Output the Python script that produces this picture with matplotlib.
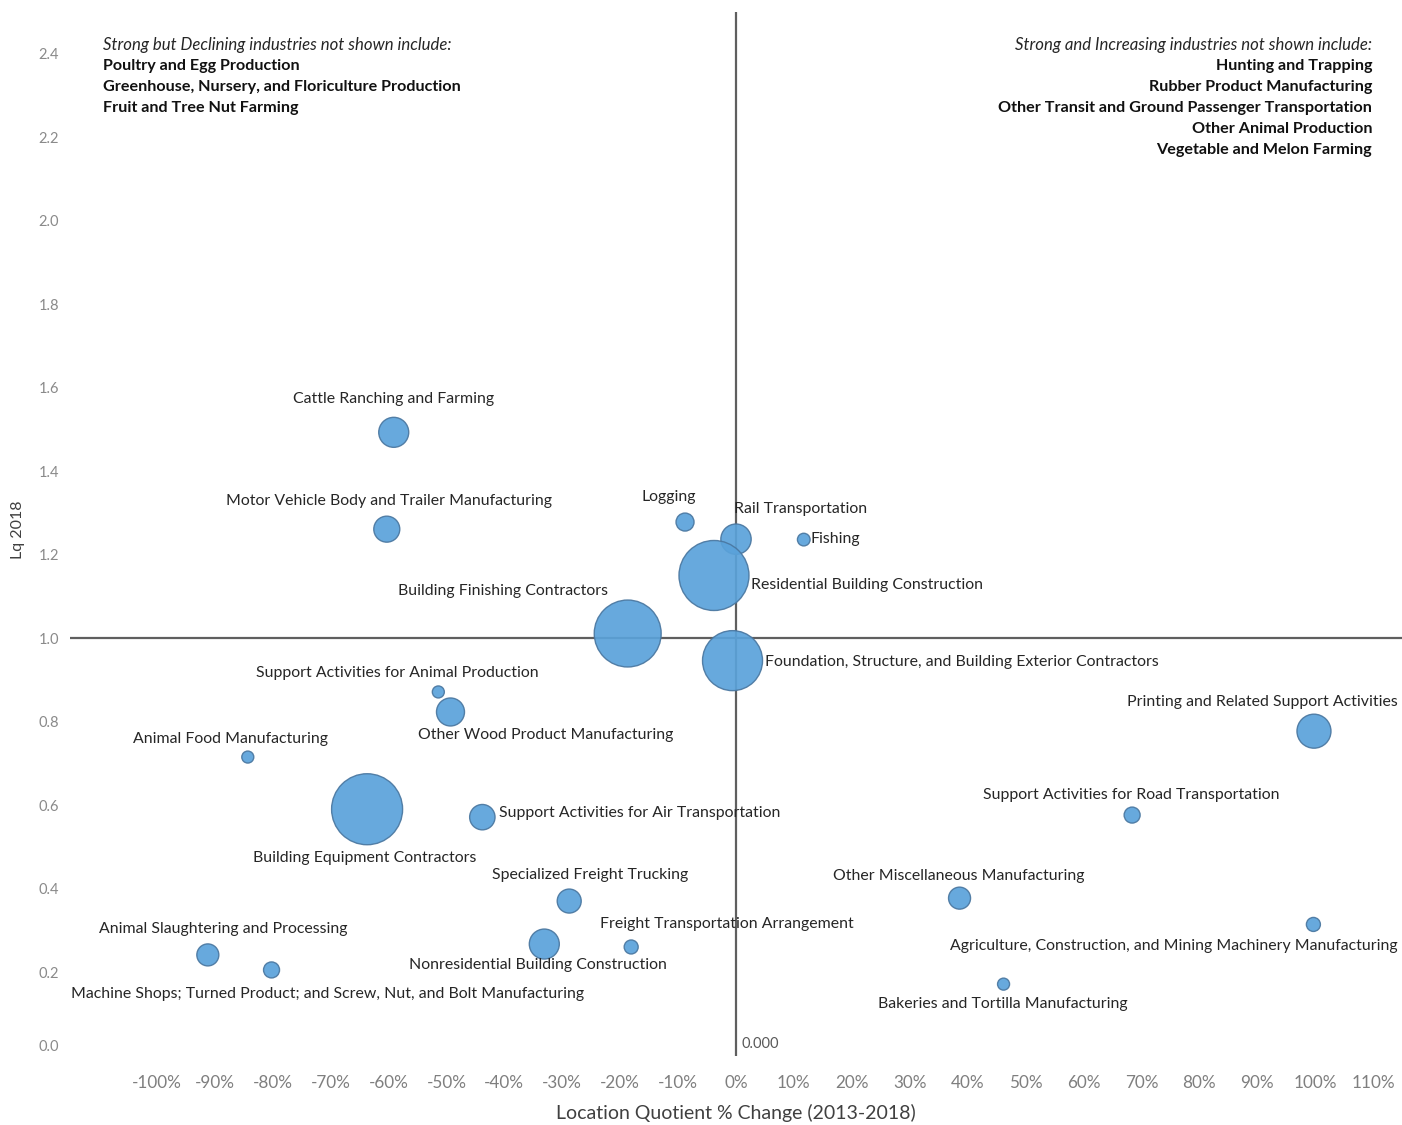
import matplotlib
matplotlib.use("Agg")
import matplotlib.pyplot as plt
from matplotlib.transforms import ScaledTranslation
import numpy as np

plt.rcParams['font.family'] = ['Lato', 'DejaVu Sans']

industries = [
    "Cattle Ranching and Farming",
    "Motor Vehicle Body and Trailer Manufacturing",
    "Logging",
    "Rail Transportation",
    "Fishing",
    "Residential Building Construction",
    "Building Finishing Contractors",
    "Foundation, Structure, and Building Exterior Contractors",
    "Support Activities for Animal Production",
    "Other Wood Product Manufacturing",
    "Animal Food Manufacturing",
    "Building Equipment Contractors",
    "Support Activities for Air Transportation",
    "Printing and Related Support Activities",
    "Support Activities for Road Transportation",
    "Specialized Freight Trucking",
    "Other Miscellaneous Manufacturing",
    "Freight Transportation Arrangement",
    "Nonresidential Building Construction",
    "Agriculture, Construction, and Mining Machinery Manufacturing",
    "Animal Slaughtering and Processing",
    "Machine Shops; Turned Product; and Screw, Nut, and Bolt Manufacturing",
    "Bakeries and Tortilla Manufacturing",
]
lq_change = [-59.1, -60.3, -8.8, 0.0, 11.7, -3.8, -18.7, -0.6, -51.4, -49.3, -84.3,
             -63.7, -43.8, 99.8, 68.4, -28.8, 38.6, -18.1, -33.1, 99.7, -91.2, -80.2, 46.2]
lq_2018 = [1.493, 1.261, 1.278, 1.237, 1.236, 1.150, 1.011, 0.946, 0.871, 0.823, 0.715,
           0.590, 0.571, 0.777, 0.576, 0.370, 0.377, 0.260, 0.267, 0.314, 0.241, 0.205, 0.171]
employment = [225, 169, 81, 230, 40, 1225, 1120, 900, 36, 196, 36, 1260, 161, 289, 64,
              144, 121, 49, 225, 49, 121, 64, 36]

declining_title = "Strong but Declining industries not shown include:"
declining_list = ["Poultry and Egg Production",
                  "Greenhouse, Nursery, and Floriculture Production",
                  "Fruit and Tree Nut Farming"]
increasing_title = "Strong and Increasing industries not shown include:"
increasing_list = ["Hunting and Trapping",
                   "Rubber Product Manufacturing",
                   "Other Transit and Ground Passenger Transportation",
                   "Other Animal Production",
                   "Vegetable and Melon Farming"]

x_ticks = list(range(-100, 111, 10))
y_ticks = [0.0, 0.2, 0.4, 0.6, 0.8, 1.0, 1.2, 1.4, 1.6, 1.8, 2.0, 2.2, 2.4]

# label offsets in pixels (dx, dy) and horizontal alignment
label_layout = [
    (0, 34, 'center'), (2, 29, 'center'), (-16, 26, 'center'), (-2, 31, 'left'),
    (7, 2, 'left'), (37, -9, 'left'), (-125, 44, 'center'), (32, 0, 'left'),
    (-41, 20, 'center'), (95, -22, 'center'), (-17, 19, 'center'), (-2, -48, 'center'),
    (17, 5, 'left'), (-52, 30, 'center'), (-1, 21, 'center'), (21, 27, 'center'),
    (-1, 23, 'center'), (96, 24, 'center'), (-6, -20, 'center'), (-140, -21, 'center'),
    (15, 27, 'center'), (56, -23, 'center'), (-1, -19, 'center'),
]

W, H, DPI = 1402, 1125, 100
fig = plt.figure(figsize=(W / DPI, H / DPI), dpi=DPI)
ax = fig.add_axes([70 / W, 1 - 1055.5 / H, (1402 - 70) / W, (1055.5 - 12) / H])

ax.set_xlim(-115, 115)
ax.set_ylim(0, 2.5)

line_color = '#5f5f5f'
ax.axhline(1.0, color=line_color, lw=1.6, zorder=1)
ax.axvline(0.0, color=line_color, lw=1.6, zorder=1)

px2pt = 72 / DPI
sizes = [(2 * np.sqrt(e) * px2pt) ** 2 for e in employment]
ax.scatter(lq_change, lq_2018, s=sizes, color='#5aa2da', edgecolor='#4a77a0',
           linewidth=1.0, alpha=0.92, zorder=2)

for name, x, y, (dx, dy, ha) in zip(industries, lq_change, lq_2018, label_layout):
    ax.annotate(name, (x, y), xytext=(dx, dy - 1), textcoords='offset pixels',
                ha=ha, va='center', fontsize=11.4, color='#262626', zorder=3)

ax.annotate("0.000", (0, 0), xytext=(5, 12), textcoords='offset pixels',
            ha='left', va='center', fontsize=10.5, color='#595959')

for s in ax.spines.values():
    s.set_visible(False)

ax.set_xticks(x_ticks)
ax.set_xticklabels([f"{v}%" for v in x_ticks])
ax.set_yticks(y_ticks)
ax.set_yticklabels([f"{v:.1f}" for v in y_ticks])
ax.tick_params(axis='x', length=0, pad=14, labelsize=12.3, labelcolor='#7f7f7f')
ax.tick_params(axis='y', length=0, pad=8, labelsize=10.5, labelcolor='#8a8a8a')
ylabs = ax.get_yticklabels()
ylabs[0].set_transform(ylabs[0].get_transform() + ScaledTranslation(0, 10 / DPI, fig.dpi_scale_trans))

ax.set_xlabel("Location Quotient % Change (2013-2018)", fontsize=14, color='#404040', labelpad=9)
fig.text(18 / W, 1 - 530 / H, "Lq 2018", rotation=90, ha='center', va='center',
         fontsize=11.5, color='#404040')

# corner notes
lx, rx = 103, 1372
fig.text(lx / W, 1 - 45 / H, declining_title, ha='left', va='center', style='italic',
         fontsize=12.1, color='#262626')
for i, t in enumerate(declining_list):
    fig.text(lx / W, 1 - (66 + 21 * i) / H, t, ha='left', va='center', fontweight='bold',
             fontsize=11.6, color='#111111')
fig.text(rx / W, 1 - 45 / H, increasing_title, ha='right', va='center', style='italic',
         fontsize=12.1, color='#262626')
for i, t in enumerate(increasing_list):
    fig.text(rx / W, 1 - (66 + 21 * i) / H, t, ha='right', va='center', fontweight='bold',
             fontsize=11.6, color='#111111')

fig.savefig("out.png", dpi=DPI)
